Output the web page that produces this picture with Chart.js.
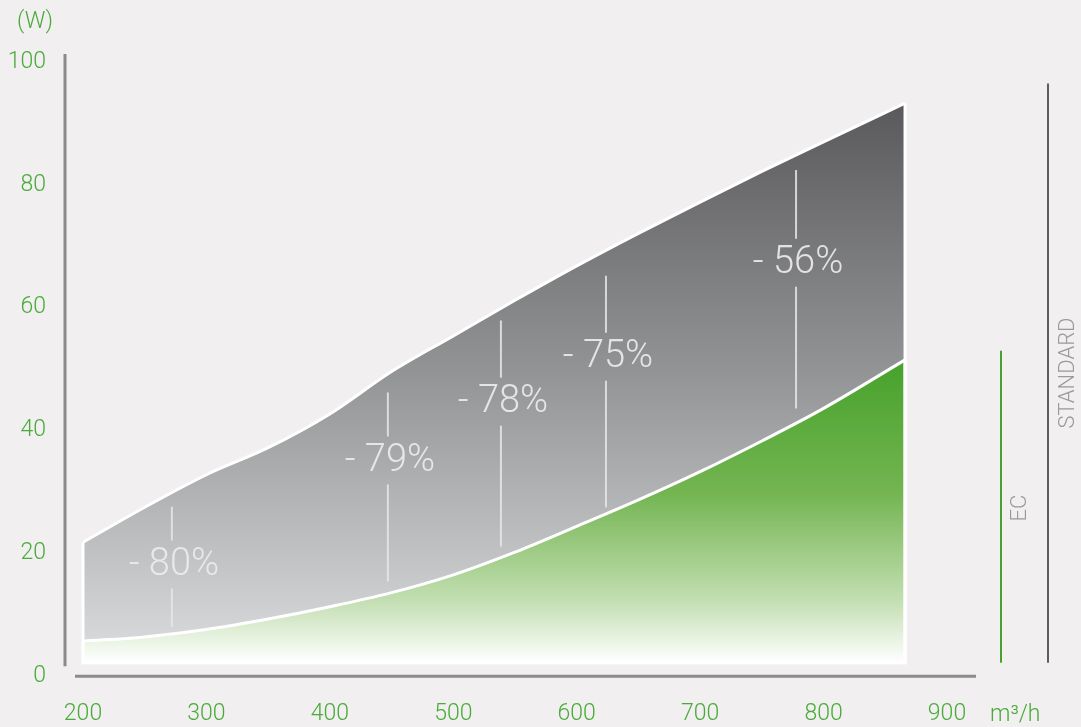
<!DOCTYPE html>
<html>
<head>
<meta charset="utf-8">
<script src="https://cdn.jsdelivr.net/npm/chart.js@4/dist/chart.umd.min.js"></script>
<style>
  html, body { margin: 0; padding: 0; background: #f1eff0; }
  #wrap { width: 1081px; height: 727px; position: relative; }
</style>
</head>
<body>
<div id="wrap"><canvas id="chart"></canvas></div>
<script>
// airflow (m3/h) and power (W)
const airflow  = [200, 250, 300, 350, 400, 450, 500, 550, 600, 650, 700, 750, 800, 866];
const standard = [21.8, 27.5, 32.8, 37.2, 42.7, 49.6, 55.4, 61.2, 66.8, 72.1, 77.2, 82.2, 87.0, 93.3];
const ec       = [5.7, 6.4, 7.6, 9.3, 11.3, 13.6, 16.5, 20.2, 24.4, 28.7, 33.3, 38.3, 43.6, 51.5];
const xTicks = [200, 300, 400, 500, 600, 700, 800, 900];
const yTicks = [0, 20, 40, 60, 80, 100];

// savings markers: label, x, top of upper line, text centre, bottom of lower line
const savingLabels = ['- 80%', '- 79%', '- 78%', '- 75%', '- 56%'];
const savingX      = [272, 447, 538.6, 623.7, 777.7];
const savingTop    = [27.6, 46.2, 57.9, 65.2, 82.4];
const savingText   = [18.2, 35.1, 44.7, 52.0, 67.3];
const savingBottom = [8.0, 15.4, 21.1, 27.5, 43.6];

const areaBase = 2.2;
const green = '#4aab3a';
const FONT = 'Roboto, "DejaVu Sans", sans-serif';

function toPoints(ys) {
  return airflow.map((x, i) => ({ x: x, y: ys[i] }));
}

function grayFill(ctx) {
  const ch = ctx.chart;
  if (!ch.chartArea) return '#999';
  const y = ch.scales.y;
  const g = ch.ctx.createLinearGradient(0, y.getPixelForValue(95), 0, y.getPixelForValue(areaBase));
  g.addColorStop(0, '#575759');
  g.addColorStop(0.5, '#949597');
  g.addColorStop(1, '#dcdddf');
  return g;
}

function greenFill(ctx) {
  const ch = ctx.chart;
  if (!ch.chartArea) return '#6b5';
  const y = ch.scales.y;
  const g = ch.ctx.createLinearGradient(0, y.getPixelForValue(52), 0, y.getPixelForValue(areaBase));
  g.addColorStop(0, '#45a12a');
  g.addColorStop(0.45, '#74b552');
  g.addColorStop(0.8, '#c4dfb3');
  g.addColorStop(1, '#ffffff');
  return g;
}

// white outline on the sides and bottom of each area
const edges = {
  id: 'edges',
  afterDatasetsDraw(chart) {
    const c = chart.ctx, xs = chart.scales.x, ys = chart.scales.y;
    const yb = ys.getPixelForValue(areaBase);
    c.save();
    c.strokeStyle = '#ffffff';
    c.lineWidth = 3;
    [standard, ec].forEach(series => {
      const x0 = xs.getPixelForValue(airflow[0]);
      const x1 = xs.getPixelForValue(airflow[airflow.length - 1]);
      c.beginPath();
      c.moveTo(x0, ys.getPixelForValue(series[0]));
      c.lineTo(x0, yb);
      c.lineTo(x1, yb);
      c.lineTo(x1, ys.getPixelForValue(series[series.length - 1]));
      c.stroke();
    });
    c.restore();
  }
};

const extras = {
  id: 'extras',
  afterDraw(chart) {
    const c = chart.ctx, xs = chart.scales.x, ys = chart.scales.y, a = chart.chartArea;
    c.save();
    // axis lines
    c.strokeStyle = '#8b8b8b';
    c.lineWidth = 3;
    c.beginPath();
    c.moveTo(a.left - 18, ys.getPixelForValue(101.3));
    c.lineTo(a.left - 18, ys.getPixelForValue(1.6));
    c.moveTo(a.left - 8, ys.getPixelForValue(0));
    c.lineTo(a.right + 29, ys.getPixelForValue(0));
    c.stroke();

    // savings markers
    c.font = '300 38px ' + FONT;
    c.textAlign = 'center';
    c.textBaseline = 'middle';
    savingLabels.forEach((t, i) => {
      const px = xs.getPixelForValue(savingX[i]);
      const pt = ys.getPixelForValue(savingText[i]);
      c.strokeStyle = 'rgba(232,232,234,0.85)';
      c.lineWidth = 2;
      c.beginPath();
      c.moveTo(px, ys.getPixelForValue(savingTop[i]));
      c.lineTo(px, pt - 24);
      c.moveTo(px, pt + 24);
      c.lineTo(px, ys.getPixelForValue(savingBottom[i]));
      c.stroke();
      c.fillStyle = 'rgba(236,236,238,0.92)';
      c.fillText(t, px + 2, pt + 1);
    });

    // units
    c.fillStyle = green;
    c.font = '300 23px ' + FONT;
    c.fillText('(W)', 35, 22);
    c.textAlign = 'left';
    c.fillText('m\u00b3/h', 990, 715);

    // legend bars
    const yb = ys.getPixelForValue(areaBase);
    c.lineWidth = 2;
    c.strokeStyle = '#4aa12f';
    c.beginPath();
    c.moveTo(1001, ys.getPixelForValue(53));
    c.lineTo(1001, yb);
    c.stroke();
    c.strokeStyle = '#5c5c5c';
    c.beginPath();
    c.moveTo(1048, ys.getPixelForValue(96.5));
    c.lineTo(1048, yb);
    c.stroke();

    c.fillStyle = '#9a9a9a';
    c.font = '300 22px ' + FONT;
    c.textAlign = 'center';
    c.save();
    c.translate(1020, 508);
    c.rotate(-Math.PI / 2);
    c.fillText('EC', 0, 0);
    c.restore();
    c.save();
    c.translate(1068, 373);
    c.rotate(-Math.PI / 2);
    c.fillText('STANDARD', 0, 0);
    c.restore();
    c.restore();
  }
};

new Chart(document.getElementById('chart'), {
  type: 'line',
  data: {
    datasets: [
      {
        label: 'EC',
        data: toPoints(ec),
        borderColor: '#ffffff',
        borderWidth: 3,
        backgroundColor: greenFill,
        fill: { value: areaBase },
        pointRadius: 0,
        tension: 0.35
      },
      {
        label: 'STANDARD',
        data: toPoints(standard),
        borderColor: '#ffffff',
        borderWidth: 3,
        backgroundColor: grayFill,
        fill: { value: areaBase },
        pointRadius: 0,
        cubicInterpolationMode: 'monotone'
      }
    ]
  },
  options: {
    responsive: true,
    maintainAspectRatio: false,
    animation: false,
    layout: { padding: { top: 62, right: 134, left: 0, bottom: 0 } },
    plugins: { legend: { display: false }, tooltip: { enabled: false } },
    scales: {
      x: {
        type: 'linear',
        min: 200,
        max: 900,
        afterBuildTicks: s => { s.ticks = xTicks.map(v => ({ value: v })); },
        afterFit: s => { s.height = 50; },
        grid: { display: false, drawTicks: false },
        border: { display: false },
        ticks: { color: green, padding: 24, font: { family: FONT, size: 23, weight: 300 }, maxRotation: 0 }
      },
      y: {
        min: 0,
        max: 100,
        afterBuildTicks: s => { s.ticks = yTicks.map(v => ({ value: v })); },
        afterFit: s => { s.width = 83; },
        grid: { display: false, drawTicks: false },
        border: { display: false },
        ticks: { color: green, padding: 37, font: { family: FONT, size: 23, weight: 300 } }
      }
    }
  },
  plugins: [edges, extras]
});
</script>
</body>
</html>
